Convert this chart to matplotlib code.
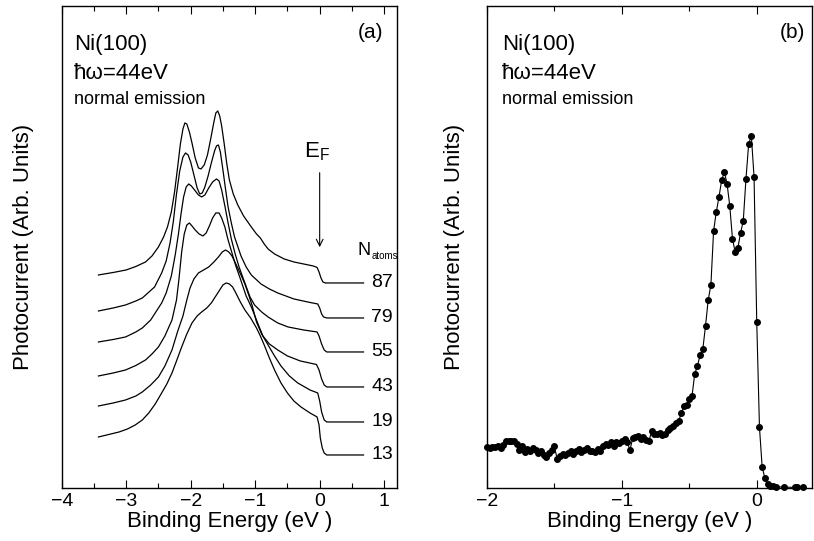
import matplotlib
matplotlib.use('Agg')
import matplotlib.pyplot as plt
from matplotlib.ticker import MultipleLocator

plt.rcParams['font.family'] = 'Liberation Sans'
plt.rcParams['mathtext.fontset'] = 'custom'
plt.rcParams['mathtext.rm'] = 'Liberation Sans'
plt.rcParams['axes.linewidth'] = 1.0

# ---- panel (a): spectra for different cluster sizes (offset, arb. units)
E_87 = [-3.43, -3.20, -3.00, -2.85, -2.70, -2.60, -2.50, -2.42, -2.36, -2.30, -2.25, -2.20,
        -2.16, -2.12, -2.09, -2.06, -2.02, -1.98, -1.93, -1.88, -1.84, -1.79, -1.74, -1.69,
        -1.64, -1.61, -1.58, -1.55, -1.52, -1.48, -1.44, -1.40, -1.34, -1.27, -1.18, -1.06,
        -0.98, -0.92, -0.86, -0.80, -0.70, -0.55, -0.40, -0.25, -0.10, -0.04, -0.01, 0.02,
        0.05, 0.09, 0.68]
I_87 = [213, 215.5, 218, 221.5, 226, 232, 241, 251, 261, 276, 296, 322,
        344, 359, 365, 364, 356, 345, 330, 320, 319, 323, 333, 349,
        366, 375, 377, 372, 362, 344, 324, 308, 294, 283, 272, 261,
        254, 250, 244, 239, 234, 229, 226, 224, 222, 220.5, 216, 210,
        206, 205, 205]

E_79 = [-3.43, -3.20, -3.01, -2.85, -2.75, -2.56, -2.45, -2.38, -2.32, -2.27, -2.22, -2.17,
        -2.12, -2.08, -2.04, -2.00, -1.95, -1.90, -1.86, -1.82, -1.78, -1.73, -1.68, -1.63,
        -1.60, -1.57, -1.54, -1.50, -1.46, -1.42, -1.37, -1.32, -1.22, -1.14, -1.06, -0.91,
        -0.78, -0.65, -0.40, -0.15, -0.03, 0.00, 0.03, 0.06, 0.11, 0.68]
I_79 = [177, 180, 183, 187, 190, 201, 215, 227, 245, 266, 294, 317,
        331, 335, 333, 326, 313, 300, 294, 295, 301, 312, 325, 337,
        342, 343, 336, 318, 299, 281, 265, 251, 232, 221, 213, 204,
        199, 195, 189, 185.5, 184, 180, 174, 171, 170, 170]

E_55 = [-3.43, -3.20, -3.01, -2.85, -2.75, -2.62, -2.55, -2.45, -2.38, -2.30, -2.24, -2.19,
        -2.15, -2.11, -2.07, -2.03, -1.99, -1.94, -1.88, -1.83, -1.78, -1.72, -1.66, -1.60,
        -1.56, -1.52, -1.47, -1.42, -1.37, -1.31, -1.25, -1.16, -1.08, -1.01, -0.90, -0.80,
        -0.65, -0.49, -0.25, -0.04, -0.01, 0.03, 0.07, 0.11, 0.68]
I_55 = [146, 148.5, 151, 156, 160, 168, 175, 185, 195, 212, 233, 254,
        274, 291, 301, 304, 302, 298, 293, 291, 293, 300, 306, 309,
        307, 298, 282, 265, 249, 234, 221, 205, 191, 183, 176, 171,
        165, 161, 158, 156, 152, 144, 138, 136, 136]

E_43 = [-3.43, -3.20, -3.01, -2.85, -2.70, -2.60, -2.50, -2.40, -2.29, -2.22, -2.18, -2.14,
        -2.10, -2.06, -2.02, -1.98, -1.93, -1.87, -1.81, -1.76, -1.71, -1.66, -1.61, -1.56,
        -1.52, -1.47, -1.42, -1.36, -1.30, -1.24, -1.14, -1.06, -1.01, -0.95, -0.88, -0.78,
        -0.65, -0.50, -0.30, -0.05, -0.01, 0.03, 0.07, 0.11, 0.68]
I_43 = [112, 115, 118, 122.5, 128, 134, 141, 152, 168, 188, 210, 236,
        254, 263, 265, 262, 258, 254, 252, 255, 262, 270, 275, 275,
        270, 261, 248, 235, 222, 211, 192, 181, 173, 163, 152, 144,
        138, 132, 127, 123.5, 118, 109, 103, 101, 101]

E_19 = [-3.43, -3.20, -3.01, -2.85, -2.75, -2.62, -2.50, -2.40, -2.29, -2.20, -2.12, -2.06,
        -2.01, -1.95, -1.88, -1.80, -1.72, -1.64, -1.57, -1.51, -1.46, -1.41, -1.36, -1.30,
        -1.22, -1.16, -1.10, -1.05, -0.98, -0.90, -0.80, -0.70, -0.60, -0.47, -0.34, -0.15,
        -0.03, 0.00, 0.03, 0.07, 0.11, 0.68]
I_19 = [82, 85, 88, 92, 96, 103, 111, 122, 138, 157, 172, 188,
        200, 209, 215, 218, 221, 226, 231, 236, 238, 236, 232, 224,
        213, 204, 193, 183, 166, 154, 143, 132, 122, 112, 105, 98,
        95, 87, 76, 68, 66, 66]

E_13 = [-3.43, -3.27, -3.11, -2.98, -2.86, -2.75, -2.65, -2.55, -2.45, -2.37, -2.29, -2.22,
        -2.14, -2.06, -1.98, -1.90, -1.83, -1.75, -1.68, -1.61, -1.55, -1.50, -1.45, -1.40,
        -1.35, -1.30, -1.23, -1.16, -1.07, -0.98, -0.92, -0.86, -0.78, -0.70, -0.60, -0.50,
        -0.40, -0.29, -0.15, -0.04, -0.01, 0.01, 0.04, 0.07, 0.11, 0.68]
I_13 = [51, 53.5, 56, 59, 63, 68, 75, 84, 95, 104, 115, 127,
        141, 154, 165, 172, 176, 180, 185, 192, 198, 203, 205, 204,
        201, 195, 186, 178, 170, 160, 152, 143, 130, 118, 105, 95,
        87, 81, 75, 71, 63, 50, 40, 35, 33, 33]

sizes = [87, 79, 55, 43, 19, 13]
spectra = [(E_87, I_87), (E_79, I_79), (E_55, I_55), (E_43, I_43), (E_19, I_19), (E_13, I_13)]

# ---- panel (b): bulk Ni(100) spectrum, 20 meV steps
E_b = [-2.00, -1.98, -1.96, -1.94, -1.92, -1.90, -1.88, -1.86, -1.84, -1.82,
       -1.80, -1.78, -1.76, -1.74, -1.72, -1.70, -1.68, -1.66, -1.64, -1.62,
       -1.60, -1.58, -1.56, -1.54, -1.52, -1.50, -1.48, -1.46, -1.44, -1.42,
       -1.40, -1.38, -1.36, -1.34, -1.32, -1.30, -1.28, -1.26, -1.24, -1.22,
       -1.20, -1.18, -1.16, -1.14, -1.12, -1.10, -1.08, -1.06, -1.04, -1.02,
       -1.00, -0.98, -0.96, -0.94, -0.92, -0.90, -0.88, -0.86, -0.84, -0.82,
       -0.80, -0.78, -0.76, -0.74, -0.72, -0.70, -0.68, -0.66, -0.64, -0.62,
       -0.60, -0.58, -0.56, -0.54, -0.52, -0.50, -0.48, -0.46, -0.44, -0.42,
       -0.40, -0.38, -0.36, -0.34, -0.32, -0.30, -0.28, -0.26, -0.24, -0.22,
       -0.20, -0.18, -0.16, -0.14, -0.12, -0.10, -0.08, -0.06, -0.04, -0.02,
       0.00, 0.02, 0.04, 0.06, 0.08, 0.10, 0.12, 0.14, 0.20, 0.28, 0.30, 0.34]
I_b = [41, 40, 41, 40.5, 41.5, 40, 43, 46.5, 47, 46.5,
       47, 44, 38, 42, 36, 39, 37, 39.5, 38, 35,
       37, 33, 31, 35, 38, 41.5, 29, 31.5, 34, 33,
       35, 36.5, 34, 37, 38.5, 36, 37.5, 39.5, 36.5, 37,
       35.5, 38.5, 36.5, 42, 44, 43, 45.5, 42, 46, 44.5,
       46.5, 48.5, 45.5, 38, 49.5, 50.5, 51.5, 49, 51, 48,
       46.5, 56.5, 53.5, 54, 54.5, 53, 54, 58, 59.5, 61.5,
       65, 66.5, 74.5, 82, 83, 88.5, 92, 114, 122, 133,
       138.7, 162, 188, 203, 257, 276, 291, 308, 316, 304,
       282, 249, 236, 240, 255, 267, 309, 344, 352, 311,
       166, 61, 21, 10, 4, 2, 1.5, 1, 1, 0.5, 0.5, 0.5]

fig = plt.figure(figsize=(8.14, 5.41), dpi=100)
ax1 = fig.add_axes([0.0758, 0.098, 0.412, 0.891])
ax2 = fig.add_axes([0.5983, 0.098, 0.3993, 0.891])

for n, (E, I) in zip(sizes, spectra):
    ax1.plot(E, I, color='black', lw=0.9)
    ax1.text(0.80, I[-1], str(n), fontsize=14, ha='left', va='center')

ax1.text(0.59, 237, 'N', fontsize=13, ha='left', va='center')
ax1.text(0.80, 232, 'atoms', fontsize=7, ha='left', va='center')
ax1.text(-0.04, 336, r'E$_\mathrm{F}$', fontsize=16, ha='center', va='center')
ax1.annotate('', xy=(0, 238), xytext=(0, 318),
             arrowprops=dict(arrowstyle='->', lw=0.8, color='black', mutation_scale=12))

ax2.plot(E_b, I_b, '-o', color='black', lw=0.8, ms=4, clip_on=False)

ax1.set_xlim(-4, 1.2)
ax2.set_xlim(-2, 0.41)
for ax, tag in [(ax1, '(a)'), (ax2, '(b)')]:
    ax.set_ylim(0, 482)
    ax.set_yticks([])
    ax.xaxis.set_major_locator(MultipleLocator(1))
    ax.xaxis.set_minor_locator(MultipleLocator(0.5))
    ax.tick_params(axis='x', which='both', direction='in', top=True, bottom=True,
                   labelsize=14, width=0.8)
    ax.tick_params(axis='x', which='major', length=6)
    ax.tick_params(axis='x', which='minor', length=3.5)
    ax.set_xlabel('Binding Energy (eV )', fontsize=16, labelpad=1)
    x0 = 0.037 if ax is ax1 else 0.045
    ax.text(x0, 0.919, 'Ni(100)', transform=ax.transAxes, fontsize=16, va='center')
    ax.text(x0, 0.859, 'ħω=44eV', transform=ax.transAxes, fontsize=16, va='center')
    ax.text(x0, 0.805, 'normal emission', transform=ax.transAxes, fontsize=13, va='center')
    ax.text(0.958 if ax is ax1 else 0.978, 0.944, tag, transform=ax.transAxes,
            fontsize=15, ha='right', va='center')

ax1.set_ylabel('Photocurrent (Arb. Units)', fontsize=16, labelpad=20)
ax2.set_ylabel('Photocurrent (Arb. Units)', fontsize=16, labelpad=16)

fig.savefig('out.png', dpi=100)
